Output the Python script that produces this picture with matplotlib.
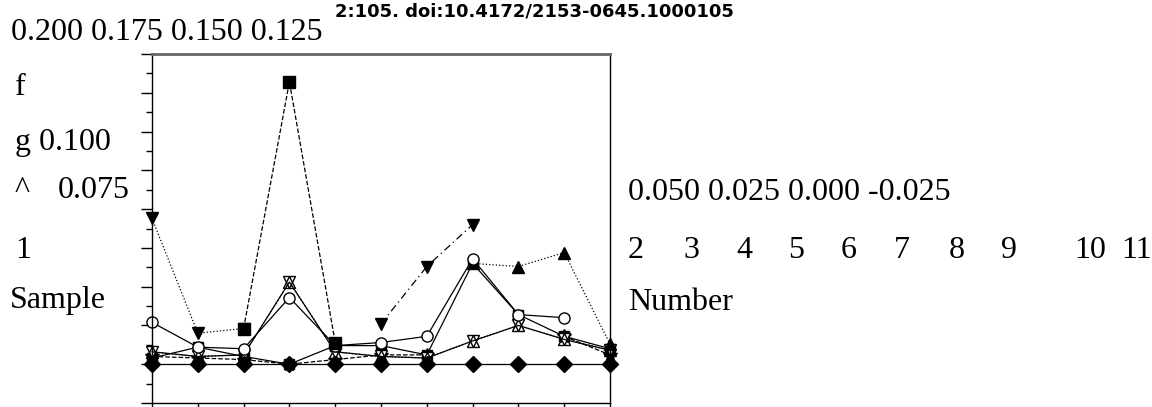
import numpy as np
import matplotlib.pyplot as plt
from matplotlib.ticker import MultipleLocator

nan = np.nan

# sample numbers along the x axis
samples = np.arange(1, 12)

# concentration values per series (one entry per sample, nan = no point)
s_early   = [0.094, 0.020, 0.023, nan, nan, nan, nan, nan, nan, nan, nan]
s_peak    = [nan, nan, 0.023, 0.182, 0.014, nan, nan, nan, nan, nan, nan]
s_late    = [nan, nan, nan, nan, nan, 0.026, 0.063, 0.090, nan, nan, nan]
s_circle  = [0.027, 0.011, 0.010, 0.043, 0.012, 0.014, 0.018, 0.068, 0.032, 0.030, nan]
s_tri     = [nan, nan, nan, nan, nan, nan, nan, 0.065, 0.063, 0.072, 0.013]
s_hour    = [0.008, 0.005, 0.006, 0.053, 0.008, 0.005, 0.004, 0.015, 0.025, 0.016, 0.009]
s_square  = [0.004, 0.011, 0.005, 0.000, 0.012, 0.012, 0.006, 0.065, 0.032, 0.018, 0.010]
s_star    = [0.005, 0.004, 0.003, 0.000, 0.003, 0.006, 0.006, nan, nan, 0.018, 0.006]
s_base    = [0.000, 0.000, 0.000, 0.000, 0.000, 0.000, 0.000, 0.000, 0.000, 0.000, 0.000]

# loose text fragments around the plot
top_row = "0.200 0.175 0.150 0.125"
doi_text = "2:105. doi:10.4172/2153-0645.1000105"
left_rows = [("f", 15, 95), ("g 0.100", 15, 150), ("^", 15, 198), ("0.075", 58, 198),
             ("1", 15, 258), ("Sample", 10, 308)]
right_row = "0.050 0.025 0.000 -0.025"
number_labels = ["2", "3", "4", "5", "6", "7", "8", "9", "10", "11"]
number_x = [628, 683, 736, 788, 841, 894, 949, 1001, 1074, 1121]

W, H = 1152, 407
fig = plt.figure(figsize=(W / 100, H / 100), dpi=100)
ax = fig.add_axes([152 / W, (H - 403) / H, 458 / W, 349 / H])

serif = "Liberation Serif"
fs = 23

k = dict(color="k", lw=0.9, ms=8, mec="k", clip_on=False)
ax.plot(samples, s_base, "-", marker="D", mfc="k", zorder=3, **k)
ax.plot(samples, s_star, "--", marker="*", mfc="k", ms=10, color="k", lw=0.9, mec="k", clip_on=False)
ax.plot(samples, s_square, "-", marker="s", mfc="k", color="k", lw=0.9, ms=7, mec="k", clip_on=False)
ax.plot(samples, s_hour, ":", marker="v", mfc="w", **k)
ax.plot(samples, s_hour, "none", marker="^", mfc="none", **k)
ax.plot(samples, s_tri, ":", marker="^", mfc="k", **k)
ax.plot(samples, s_circle, "-", marker="o", mfc="w", **k)
ax.plot(samples, s_late, "-.", marker="v", mfc="k", dashes=(6, 3, 1, 3), **k)
ax.plot(samples, s_peak, "--", marker="s", mfc="k", **k)
ax.plot(samples, s_early, ":", marker="v", mfc="k", **k)

ax.set_xlim(1, 11)
ax.set_ylim(-0.025, 0.200)
ax.set_xticks(samples)
ax.yaxis.set_major_locator(MultipleLocator(0.025))
ax.yaxis.set_minor_locator(MultipleLocator(0.0125))
ax.tick_params(axis="x", direction="out", length=6, width=1, labelbottom=False)
ax.tick_params(axis="y", which="major", direction="out", length=8, width=1, labelleft=False)
ax.tick_params(axis="y", which="minor", direction="out", length=4, width=1)
for side in ["left", "right", "bottom"]:
    ax.spines[side].set_linewidth(1)
ax.spines["top"].set_color("#666666")
ax.spines["top"].set_linewidth(2)

def put(x, y, s, **kw):
    fig.text(x / W, 1 - y / H, s, va="baseline", **kw)

put(11, 40, top_row, family=serif, fontsize=fs)
put(335, 17, doi_text, family="DejaVu Sans", fontweight="bold", fontsize=13)
for s, x, y in left_rows:
    put(x, y, s, family=serif, fontsize=fs)
put(628, 200, right_row, family=serif, fontsize=fs)
for s, x in zip(number_labels, number_x):
    put(x, 258, s, family=serif, fontsize=fs)
put(628, 310, "Number", family=serif, fontsize=fs)

fig.savefig("out.png", dpi=100)
